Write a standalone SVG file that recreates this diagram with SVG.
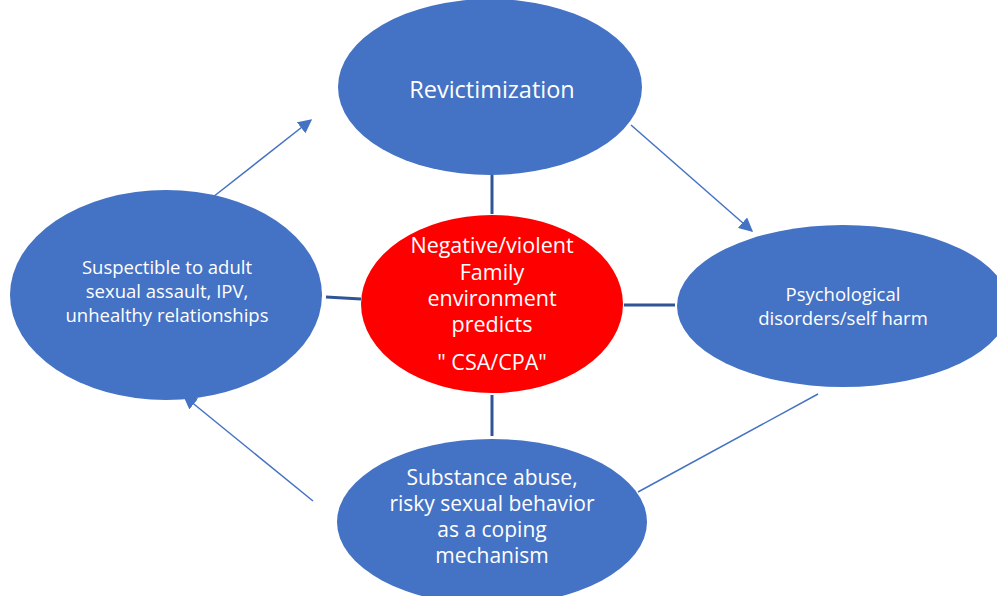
<svg xmlns="http://www.w3.org/2000/svg" width="997" height="596" viewBox="0 0 997 596">
<defs>
<style>
.node{fill:#4472C4;}
.core{fill:#FF0000;}
.t{fill:#FFFFFF;font-family:"Open Sans","Liberation Sans",sans-serif;text-anchor:middle;}
.s16{font-size:18.5px;}
.s20{font-size:21px;}
.s21{font-size:21.5px;}
.s22{font-size:23.5px;}
.arrow{stroke:#4472C4;stroke-width:1.5;fill:none;}
.bar{stroke:#2F5597;stroke-width:3;fill:none;}
</style>
<marker id="ah" viewBox="0 0 10 10" refX="9" refY="5" markerWidth="14" markerHeight="14" markerUnits="userSpaceOnUse" orient="auto">
<path d="M0,0 L10,5 L0,10 z" fill="#4472C4"/>
</marker>
</defs>
<rect width="997" height="596" fill="#FFFFFF"/>
<g id="connectors">
<line class="bar" x1="492" y1="174" x2="492" y2="214"/>
<line class="bar" x1="492" y1="395" x2="492" y2="436"/>
<line class="bar" x1="326" y1="297" x2="361" y2="299"/>
<line class="bar" x1="624" y1="305" x2="675" y2="305"/>
<line class="arrow" x1="213" y1="197" x2="311" y2="120" marker-end="url(#ah)"/>
<line class="arrow" x1="631" y1="125" x2="752" y2="231" marker-end="url(#ah)"/>
<line class="arrow" x1="313" y1="501" x2="184" y2="396" marker-end="url(#ah)"/>
<line class="arrow" x1="818" y1="394" x2="638" y2="492"/>
</g>
<g id="revictimization">
<ellipse class="node" cx="490" cy="87" rx="152" ry="88"/>
<text class="t s22" x="492" y="98">Revictimization</text>
</g>
<g id="suspectible">
<ellipse class="node" cx="166" cy="295" rx="156" ry="105"/>
<text class="t s16" x="167" y="274">Suspectible to adult</text>
<text class="t s16" x="167" y="298">sexual assault, IPV,</text>
<text class="t s16" x="167" y="322">unhealthy relationships</text>
</g>
<g id="psychological">
<ellipse class="node" cx="843" cy="306" rx="166" ry="81"/>
<text class="t s16" x="843" y="301">Psychological</text>
<text class="t s16" x="843" y="325">disorders/self harm</text>
</g>
<g id="substance">
<ellipse class="node" cx="492" cy="522" rx="155" ry="83"/>
<text class="t s20" x="492" y="485">Substance abuse,</text>
<text class="t s20" x="492" y="511">risky sexual behavior</text>
<text class="t s20" x="492" y="537">as a coping</text>
<text class="t s20" x="492" y="563">mechanism</text>
</g>
<g id="family">
<ellipse class="core" cx="492" cy="304" rx="131" ry="89"/>
<text class="t s21" x="492" y="253">Negative/violent</text>
<text class="t s21" x="492" y="280">Family</text>
<text class="t s21" x="492" y="306">environment</text>
<text class="t s21" x="492" y="332">predicts</text>
<text class="t s21" x="492" y="370">" CSA/CPA"</text>
</g>
</svg>
